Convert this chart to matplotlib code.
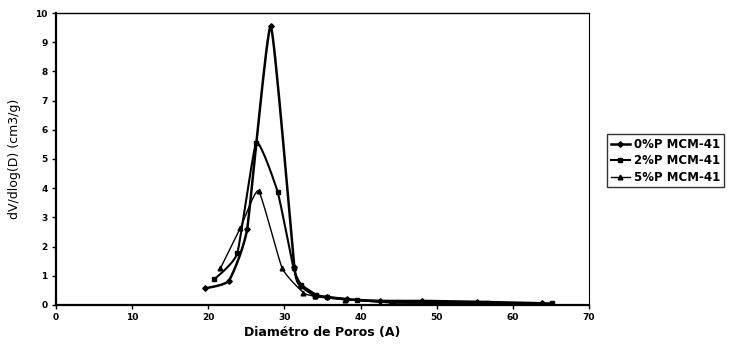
import matplotlib
matplotlib.use("Agg")
import matplotlib.pyplot as plt
import numpy as np

# pore size distributions (diameter in A, dV/dlog(D) in cm3/g)
x_0p = [19.6, 22.7, 25.1, 28.2, 31.3, 32.2, 34.0, 35.6, 38.2, 42.6, 48.1, 55.3, 63.8]
y_0p = [0.57, 0.83, 2.60, 9.55, 1.30, 0.65, 0.32, 0.26, 0.19, 0.14, 0.14, 0.11, 0.06]

x_2p = [20.8, 23.8, 26.3, 29.1, 31.2, 32.2, 34.2, 35.6, 39.5, 44.3, 49.6, 56.6, 65.1]
y_2p = [0.88, 1.77, 5.56, 3.88, 1.26, 0.70, 0.35, 0.28, 0.17, 0.08, 0.08, 0.06, 0.06]

x_5p = [21.6, 24.2, 26.6, 29.7, 32.5, 34.0, 38.0, 44.0, 50.0, 60.0]
y_5p = [1.26, 2.63, 3.91, 1.26, 0.42, 0.30, 0.18, 0.08, 0.05, 0.0]

labels = ["0%P MCM-41", "2%P MCM-41", "5%P MCM-41"]
xticks = list(range(0, 71, 10))
yticks = list(range(0, 11))


def smooth_path(xs, ys, tension=0.45, steps=16):
    # cardinal curve through the points, a gentle "smoothed line" look
    p = np.column_stack([xs, ys]).astype(float)
    n = len(p)
    m = np.zeros_like(p)
    for i in range(n):
        a = p[max(i - 1, 0)]
        b = p[min(i + 1, n - 1)]
        m[i] = tension * (b - a) / 2
    t = np.linspace(0, 1, steps, endpoint=False)[:, None]
    h00 = 2 * t ** 3 - 3 * t ** 2 + 1
    h10 = t ** 3 - 2 * t ** 2 + t
    h01 = -2 * t ** 3 + 3 * t ** 2
    h11 = t ** 3 - t ** 2
    out = [h00 * p[i] + h10 * m[i] + h01 * p[i + 1] + h11 * m[i + 1] for i in range(n - 1)]
    out.append(p[-1][None, :])
    out = np.vstack(out)
    return out[:, 0], out[:, 1]


fig = plt.figure(figsize=(7.35, 3.44), dpi=100)
ax = fig.add_axes([0.0762, 0.1134, 0.7252, 0.8488])

series = [(x_0p, y_0p, "D", 2.8, 1.8), (x_2p, y_2p, "s", 3.2, 1.5), (x_5p, y_5p, "^", 3.4, 1.0)]
for (xs, ys, mk, ms, lw), lab in zip(series, labels):
    sx, sy = smooth_path(xs, ys)
    ax.plot(sx, sy, color="black", lw=lw)
    ax.plot(xs, ys, ls="none", color="black", marker=mk, ms=ms)
    ax.plot([], [], color="black", lw=lw, marker=mk, ms=ms, label=lab)

ax.set_xlim(0, 70)
ax.set_ylim(0, 10)
ax.set_xticks(xticks)
ax.set_yticks(yticks)
ax.tick_params(direction="out", length=3, width=1, labelsize=6.5, pad=3)
for t in ax.get_xticklabels() + ax.get_yticklabels():
    t.set_fontweight("bold")

for side in ("left", "bottom"):
    ax.spines[side].set_linewidth(1.6)
ax.spines["top"].set_linewidth(1.0)
ax.spines["right"].set_linewidth(0.8)
ax.spines["right"].set_linestyle((0, (2, 1)))

ax.set_ylabel("dV/dlog(D) (cm3/g)", fontsize=9, labelpad=10)
ax.set_xlabel("Diamétro de Poros (A)", fontsize=9, fontweight="bold", labelpad=3)

leg = fig.legend(loc="upper left", bbox_to_anchor=(0.826, 0.61), fontsize=8.5,
                 frameon=True, fancybox=False, edgecolor="black",
                 handlelength=1.6, handletextpad=0.4, borderpad=0.3,
                 labelspacing=0.3, borderaxespad=0)
leg.get_frame().set_linewidth(1.0)
for t in leg.get_texts():
    t.set_fontweight("bold")

fig.savefig("out.png", dpi=100)
